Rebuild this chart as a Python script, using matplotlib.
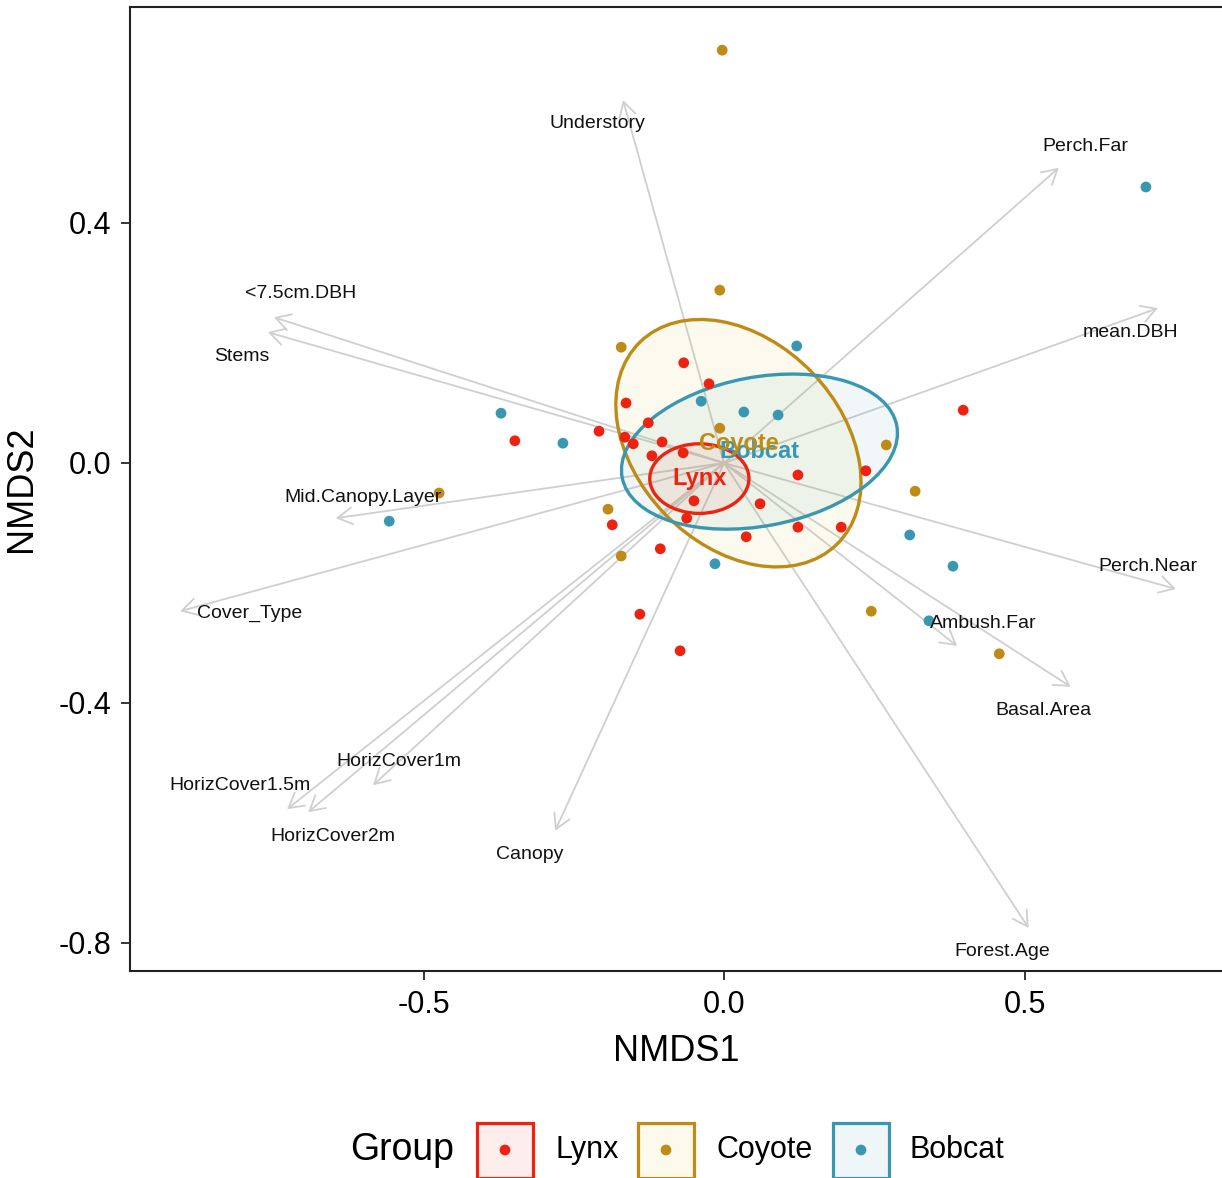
import matplotlib
matplotlib.use("Agg")
import matplotlib.pyplot as plt
from matplotlib.patches import Ellipse, Rectangle, ArrowStyle

plt.rcParams['font.family'] = ['Liberation Sans', 'DejaVu Sans']

# site scores per predator group (NMDS1, NMDS2)
lynx_x = [-0.067, -0.025, -0.163, -0.126, -0.208, -0.348, -0.165, -0.151, -0.103, -0.068,
          -0.120, 0.236, 0.123, -0.050, 0.060, -0.062, -0.186, 0.123, 0.195, 0.037,
          -0.106, 0.398, -0.073, -0.140]
lynx_y = [0.167, 0.132, 0.100, 0.067, 0.053, 0.037, 0.043, 0.032, 0.035, 0.017,
          0.012, -0.013, -0.020, -0.063, -0.068, -0.092, -0.103, -0.107, -0.107, -0.123,
          -0.143, 0.088, -0.313, -0.252]
coyote_x = [-0.007, -0.171, -0.007, 0.270, 0.318, -0.193, -0.171, -0.003, -0.474, 0.245, 0.458]
coyote_y = [0.288, 0.193, 0.058, 0.030, -0.047, -0.077, -0.155, 0.688, -0.050, -0.247, -0.318]
bobcat_x = [0.121, -0.038, -0.371, 0.033, 0.090, -0.268, -0.015, 0.309, 0.702, -0.557, 0.381, 0.341]
bobcat_y = [0.195, 0.103, 0.083, 0.085, 0.080, 0.033, -0.168, -0.120, 0.460, -0.097, -0.172, -0.263]

# habitat vectors (envfit) and where their labels sit
vec_names = ["Understory", "Perch.Far", "mean.DBH", "<7.5cm.DBH", "Stems", "Mid.Canopy.Layer",
             "Cover_Type", "Perch.Near", "Ambush.Far", "Basal.Area", "Forest.Age",
             "HorizCover1m", "HorizCover1.5m", "HorizCover2m", "Canopy"]
vec_x = [-0.168, 0.557, 0.722, -0.749, -0.759, -0.646, -0.905, 0.752, 0.388, 0.577, 0.507,
         -0.584, -0.727, -0.692, -0.281]
vec_y = [0.605, 0.492, 0.258, 0.243, 0.218, -0.092, -0.247, -0.210, -0.305, -0.373, -0.775,
         -0.537, -0.577, -0.582, -0.613]
lab_x = [-0.211, 0.601, 0.677, -0.705, -0.802, -0.601, -0.790, 0.705, 0.431, 0.532, 0.463,
         -0.541, -0.805, -0.651, -0.324]
lab_y = [0.565, 0.528, 0.218, 0.282, 0.178, -0.057, -0.250, -0.172, -0.267, -0.412, -0.815,
         -0.498, -0.538, -0.622, -0.653]

# group ellipses: centre, full width/height, rotation (deg)
groups = ["Lynx", "Coyote", "Bobcat"]
ell_cx = [-0.041, 0.024, 0.059]
ell_cy = [-0.026, 0.033, 0.019]
ell_w = [0.165, 0.470, 0.465]
ell_h = [0.116, 0.340, 0.248]
ell_ang = [0, -46, 10.7]

colors = {"Lynx": "#EE2211", "Coyote": "#BF8B17", "Bobcat": "#3A97B0"}
fills = {"Lynx": "#EE2211", "Coyote": "#E0C21A", "Bobcat": "#3A97B0"}
pts = {"Lynx": (lynx_x, lynx_y), "Coyote": (coyote_x, coyote_y), "Bobcat": (bobcat_x, bobcat_y)}

fig = plt.figure(figsize=(12.22, 11.78), dpi=100)
ax = fig.add_axes([130 / 1222, 1 - 971 / 1178, 1 - 130 / 1222, (971 - 7) / 1178])

head = ArrowStyle("->", head_length=10.5, head_width=6)
for tx, ty in zip(vec_x, vec_y):
    ax.annotate("", xy=(tx, ty), xytext=(0, 0),
                arrowprops=dict(arrowstyle=head, color="#cfcfcf", lw=1.3,
                                shrinkA=0, shrinkB=0, mutation_scale=1), zorder=1)

for i, g in enumerate(groups):
    c = colors[g]
    ax.add_patch(Ellipse((ell_cx[i], ell_cy[i]), ell_w[i], ell_h[i], angle=ell_ang[i],
                         facecolor=fills[g], alpha=0.07, edgecolor="none", zorder=2))
    ax.add_patch(Ellipse((ell_cx[i], ell_cy[i]), ell_w[i], ell_h[i], angle=ell_ang[i],
                         facecolor="none", edgecolor=c, lw=2.4, zorder=2.5))

for g in groups:
    ax.scatter(pts[g][0], pts[g][1], s=60, color=colors[g], edgecolors="none", zorder=3)

for name, x, y in zip(vec_names, lab_x, lab_y):
    ax.text(x, y, name, fontsize=14, color="#111111", ha="center", va="center", zorder=4)

# group names at the ellipse centres (Bobcat first so Coyote lies over it)
for i in [2, 0, 1]:
    g = groups[i]
    ax.text(ell_cx[i], ell_cy[i], g, fontsize=17, fontweight="bold", color=colors[g],
            ha="center", va="center", zorder=5)

ax.set_xlim((130 - 724) / 601, (1222 - 724) / 601)
ax.set_ylim((463 - 971) / 600, (463 - 7) / 600)
ax.set_xticks([-0.5, 0.0, 0.5])
ax.set_yticks([0.4, 0.0, -0.4, -0.8])
ax.set_xticklabels(["-0.5", "0.0", "0.5"])
ax.set_yticklabels(["0.4", "0.0", "-0.4", "-0.8"])
ax.tick_params(labelsize=22, length=6.5, width=1.1, pad=7, colors="black")
for s in ["left", "bottom", "top"]:
    ax.spines[s].set_linewidth(1.5)
    ax.spines[s].set_color("#222222")
ax.spines["right"].set_visible(False)
ax.set_xlabel("NMDS1", fontsize=26, labelpad=10)
ax.set_ylabel("NMDS2", fontsize=26, labelpad=14)

# legend drawn in pixel units along the bottom
lg = fig.add_axes([0, 0, 1, 100 / 1178])
lg.set_xlim(0, 1222)
lg.set_ylim(0, 100)
lg.axis("off")
lg.text(402, 28, "Group", fontsize=27, ha="center", va="center")
box_left = [477, 638, 833]
text_left = [555, 716, 910]
for i, g in enumerate(groups):
    c = colors[g]
    lg.add_patch(Rectangle((box_left[i], 0), 56, 55, facecolor=fills[g], alpha=0.08, edgecolor="none"))
    lg.add_patch(Rectangle((box_left[i], 0), 56, 55, facecolor="none", edgecolor=c, lw=2.3))
    lg.scatter([box_left[i] + 28], [28], s=60, color=c, edgecolors="none")
    lg.text(text_left[i], 28, g, fontsize=22, ha="left", va="center")

fig.savefig("out.png", dpi=100)
